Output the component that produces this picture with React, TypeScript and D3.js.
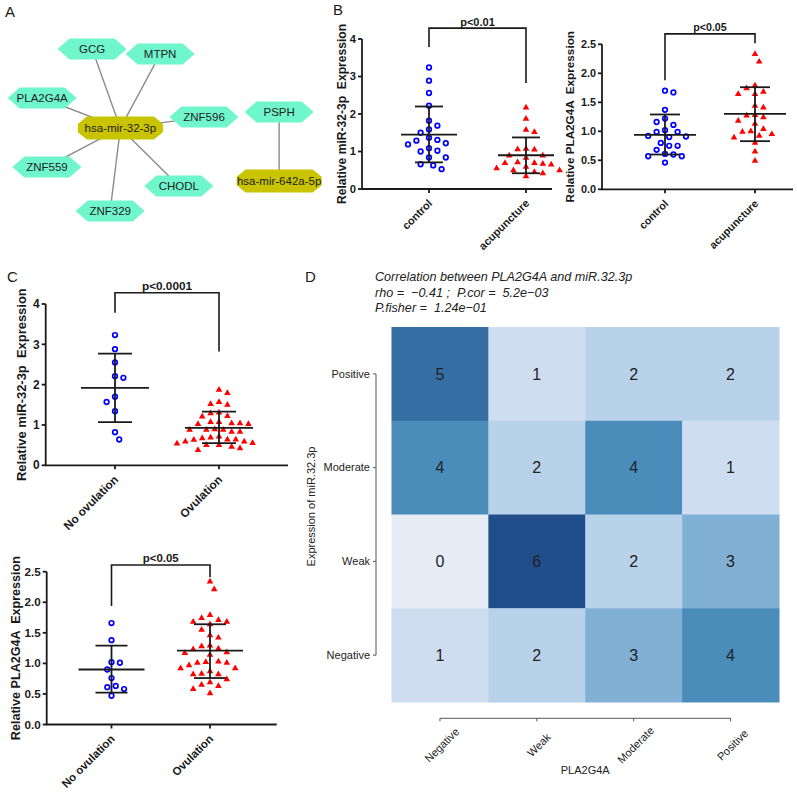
import React from 'react';
import * as d3 from 'd3';

const FONT = "'Liberation Sans', Arial, Helvetica, sans-serif";
const INK = '#1a1a1a';

// ---------------- Panel A: network ----------------
const netNodeNames = ['GCG', 'MTPN', 'PLA2G4A', 'ZNF596', 'hsa-mir-32-3p', 'ZNF559', 'CHODL', 'ZNF329', 'PSPH', 'hsa-mir-642a-5p'];
const netNodeKinds = ['gene', 'gene', 'gene', 'gene', 'mirna', 'gene', 'gene', 'gene', 'gene', 'mirna'];
// layout coordinates in percent of the panel area
const netLayoutX = [27.1, 47.1, 12.4, 60.0, 35.4, 13.8, 52.6, 32.4, 82.1, 82.1];
const netLayoutY = [21.3, 23.5, 42.6, 50.9, 55.7, 72.6, 80.9, 91.7, 48.7, 78.7];
const netEdgeFrom = ['hsa-mir-32-3p', 'hsa-mir-32-3p', 'hsa-mir-32-3p', 'hsa-mir-32-3p', 'hsa-mir-32-3p', 'hsa-mir-32-3p', 'hsa-mir-32-3p', 'PSPH'];
const netEdgeTo = ['GCG', 'MTPN', 'PLA2G4A', 'ZNF596', 'ZNF559', 'CHODL', 'ZNF329', 'hsa-mir-642a-5p'];

// ---------------- Panel B ----------------
const bCats = ['control', 'acupuncture'];
const bMirControl = [3.24, 2.89, 2.56, 2.22, 1.82, 1.69, 1.59, 1.50, 1.31, 1.37, 1.29, 1.22, 1.19, 1.09, 1.02, 1.00, 0.84, 0.84, 0.66, 0.63, 0.53];
const bMirAcu = [2.17, 1.87, 1.58, 1.52, 1.07, 1.06, 1.05, 0.89, 0.89, 0.83, 0.71, 0.69, 0.69, 0.67, 0.65, 0.59, 0.55, 0.50, 0.50, 0.45, 0.42, 0.34];
const bMirMean = [1.45, 0.90];
const bMirSdLow = [0.71, 0.42];
const bMirSdHigh = [2.20, 1.375];
const bMirTicks = [0, 1, 2, 3, 4];

const bPlaControl = [1.70, 1.67, 1.37, 1.22, 1.16, 1.11, 0.99, 1.02, 0.99, 0.92, 0.90, 0.91, 0.80, 0.75, 0.75, 0.68, 0.61, 0.57, 0.57, 0.60, 0.46];
const bPlaAcu = [2.33, 2.20, 1.79, 1.74, 1.68, 1.64, 1.64, 1.44, 1.41, 1.28, 1.27, 1.24, 1.18, 1.13, 1.04, 0.99, 0.95, 1.00, 0.92, 0.89, 0.80, 0.65, 0.49];
const bPlaMean = [0.94, 1.30];
const bPlaSdLow = [0.60, 0.83];
const bPlaSdHigh = [1.29, 1.76];
const bPlaTicks = [0, 0.5, 1.0, 1.5, 2.0, 2.5];

// ---------------- Panel C ----------------
const cCats = ['No ovulation', 'Ovulation'];
const cMirNoOv = [3.23, 2.88, 2.55, 2.21, 2.17, 1.70, 1.57, 1.34, 0.82, 0.64];
const cMirOv = [1.87, 1.79, 1.57, 1.50, 1.52, 1.31, 1.22, 1.21, 1.29, 1.07, 1.04, 1.02, 1.07, 1.04, 1.02, 0.88, 0.89, 0.88, 0.83, 0.83, 0.88, 0.71, 0.64, 0.63, 0.64, 0.69, 0.67, 0.59, 0.55, 0.50, 0.46, 0.38, 0.42, 0.50, 0.54, 0.59];
const cMirMean = [1.92, 0.93];
const cMirSdLow = [1.07, 0.55];
const cMirSdHigh = [2.77, 1.33];

const cPlaNoOv = [1.66, 1.38, 1.01, 1.02, 0.90, 0.76, 0.61, 0.63, 0.58, 0.47];
const cPlaOv = [2.34, 2.21, 1.79, 1.74, 1.68, 1.64, 1.68, 1.71, 1.55, 1.46, 1.42, 1.28, 1.23, 1.24, 1.29, 1.17, 1.14, 1.18, 1.01, 0.97, 0.92, 1.03, 0.92, 1.01, 1.02, 0.82, 0.87, 0.83, 0.82, 0.74, 0.69, 0.65, 0.63, 0.51, 0.58];
const cPlaMean = [0.90, 1.21];
const cPlaSdLow = [0.52, 0.76];
const cPlaSdHigh = [1.29, 1.64];

// ---------------- Panel D ----------------
const dRows = ['Positive', 'Moderate', 'Weak', 'Negative'];
const dCols = ['Negative', 'Weak', 'Moderate', 'Positive'];
const dCounts = [
  [5, 1, 2, 2],
  [4, 2, 4, 1],
  [0, 6, 2, 3],
  [1, 2, 3, 4],
];
const dTitle = ['Correlation between PLA2G4A and miR.32.3p', 'rho =  \u22120.41 ;  P.cor =  5.2e\u221203', 'P.fisher =  1.24e\u221201'];
const dColorStops = [0, 1, 2, 3, 4, 5, 6];
const dColors = ['#e7edf7', '#cedef0', '#b8d2e9', '#80b0d3', '#4a8dbb', '#356ea3', '#1f4e8b'];

// ---------------- helpers ----------------
function beeswarm(vals: number[], y: (v: number) => number, dmin: number, step: number): number[] {
  const order = vals.map((_, i) => i).sort((a, b) => vals[b] - vals[a]);
  const placed: { x: number; y: number }[] = [];
  const out: number[] = new Array(vals.length).fill(0);
  let flip = 1;
  for (const i of order) {
    const py = y(vals[i]);
    let found = 0;
    for (let n = 0; n < 60; n++) {
      const cands = n === 0 ? [0] : [flip * n * step, -flip * n * step];
      let ok: number | null = null;
      for (const c of cands) {
        if (placed.every((p) => Math.hypot(p.x - c, p.y - py) >= dmin)) {
          ok = c;
          break;
        }
      }
      if (ok !== null) {
        found = ok;
        break;
      }
    }
    if (found !== 0) flip = -flip;
    placed.push({ x: found, y: py });
    out[i] = found;
  }
  return out;
}

function hexPath(w: number, h: number, cut: number) {
  return `M${-w / 2},0L${-w / 2 + cut},${-h / 2}L${w / 2 - cut},${-h / 2}L${w / 2},0L${w / 2 - cut},${h / 2}L${-w / 2 + cut},${h / 2}Z`;
}
function octPath(w: number, h: number, cut: number) {
  const s = h * 0.18;
  return `M${-w / 2},${-s}L${-w / 2 + cut},${-h / 2}L${w / 2 - cut},${-h / 2}L${w / 2},${-s}L${w / 2},${s}L${w / 2 - cut},${h / 2}L${-w / 2 + cut},${h / 2}L${-w / 2},${s}Z`;
}

function NetworkPanel() {
  const xA = d3.scaleLinear().domain([0, 100]).range([0, 340]);
  const yA = d3.scaleLinear().domain([0, 100]).range([0, 230]);
  const pos = new Map<string, { x: number; y: number; kind: string }>();
  netNodeNames.forEach((n, i) => pos.set(n, { x: xA(netLayoutX[i]), y: yA(netLayoutY[i]), kind: netNodeKinds[i] }));
  return (
    <g>
      {netEdgeFrom.map((f, i) => {
        const a = pos.get(f)!;
        const b = pos.get(netEdgeTo[i])!;
        return <line key={i} x1={a.x} y1={a.y} x2={b.x} y2={b.y} stroke="#8c8c8c" strokeWidth={1.4} />;
      })}
      {netNodeNames.map((n) => {
        const p = pos.get(n)!;
        const isMir = p.kind === 'mirna';
        return (
          <g key={n} transform={`translate(${p.x},${p.y})`}>
            <path d={isMir ? octPath(85, 23, 9) : hexPath(69, 21, 12)} fill={isMir ? '#c9c300' : '#6ff6cb'} />
            <text textAnchor="middle" dy="0.36em" fontSize={11.5} fontFamily={FONT} fill="#222">
              {n}
            </text>
          </g>
        );
      })}
      <text x={5} y={17} fontSize={15} fontFamily={FONT} fill={INK}>A</text>
    </g>
  );
}

type PanelCfg = {
  x0: number; x1: number; catX: [number, number]; cats: string[];
  y0: number; y1: number; ymax: number; ticks: number[]; fmt: string;
  title: string; titleX: number; fs: number;
  meanHalf: number; capHalf: number;
  bracketTop: number; bracketLeft: number; bracketRight: number; pLabel: string;
};

function ScatterPanel({ cfg, data, mean, lo, hi }: { cfg: PanelCfg; data: number[][]; mean: number[]; lo: number[]; hi: number[] }) {
  const y = d3.scaleLinear().domain([0, cfg.ymax]).range([cfg.y0, cfg.y1]);
  const x = d3.scalePoint<string>().domain(cfg.cats).range(cfg.catX);
  const fmt = d3.format(cfg.fmt);
  const tri = d3.symbol(d3.symbolTriangle, 19)()!;
  const sw = 1.8;
  const fs = cfg.fs;
  return (
    <g fontFamily={FONT} fill={INK}>
      {/* points */}
      {data.map((vals, gi) => {
        const cx = x(cfg.cats[gi])!;
        const offs = beeswarm(vals, y, 8, 4.2);
        return (
          <g key={gi}>
            {vals.map((v, i) =>
              gi === 0 ? (
                <circle key={i} cx={cx + offs[i]} cy={y(v)} r={2.3} fill="#fff" stroke="#0000ff" strokeWidth={1.7} />
              ) : (
                <path key={i} d={tri} transform={`translate(${cx + offs[i]},${y(v)})`} fill="#ff0000" />
              )
            )}
          </g>
        );
      })}
      {/* mean and SD */}
      {cfg.cats.map((c, gi) => {
        const cx = x(c)!;
        return (
          <g key={c} stroke={INK} strokeWidth={sw}>
            <line x1={cx} x2={cx} y1={y(lo[gi])} y2={y(hi[gi])} />
            <line x1={cx - cfg.capHalf} x2={cx + cfg.capHalf} y1={y(lo[gi])} y2={y(lo[gi])} />
            <line x1={cx - cfg.capHalf} x2={cx + cfg.capHalf} y1={y(hi[gi])} y2={y(hi[gi])} />
            <line x1={cx - cfg.meanHalf} x2={cx + cfg.meanHalf} y1={y(mean[gi])} y2={y(mean[gi])} />
          </g>
        );
      })}
      {/* axes */}
      <line x1={cfg.x0} x2={cfg.x0} y1={y(0)} y2={y(cfg.ymax)} stroke={INK} strokeWidth={sw} />
      <line x1={cfg.x0 - 0.9} x2={cfg.x1} y1={y(0)} y2={y(0)} stroke={INK} strokeWidth={sw} />
      {cfg.ticks.map((t) => (
        <g key={t}>
          <line x1={cfg.x0 - 4} x2={cfg.x0} y1={y(t)} y2={y(t)} stroke={INK} strokeWidth={sw} />
          <text x={cfg.x0 - 6} y={y(t)} dy="0.35em" textAnchor="end" fontSize={11.2 * fs} fontWeight="bold">
            {fmt(t)}
          </text>
        </g>
      ))}
      {cfg.cats.map((c) => (
        <g key={c}>
          <line x1={x(c)!} x2={x(c)!} y1={y(0)} y2={y(0) + 4} stroke={INK} strokeWidth={sw} />
          <text transform={`translate(${x(c)! + 4},${y(0) + 15}) rotate(-45)`} textAnchor="end" fontSize={11 * fs} fontWeight="bold">
            {c}
          </text>
        </g>
      ))}
      <text
        transform={`translate(${cfg.titleX},${(y(0) + y(cfg.ymax)) / 2}) rotate(-90)`}
        textAnchor="middle"
        dy="0.36em"
        fontSize={12.1 * fs}
        fontWeight="bold"
        xmlSpace="preserve"
        style={{ whiteSpace: 'pre' }}
      >
        {cfg.title}
      </text>
      {/* significance bracket */}
      <path
        d={`M${x(cfg.cats[0])},${y(cfg.bracketLeft)}V${y(cfg.bracketTop)}H${x(cfg.cats[1])}V${y(cfg.bracketRight)}`}
        fill="none"
        stroke={INK}
        strokeWidth={1.6}
      />
      <text x={(cfg.catX[0] + cfg.catX[1]) / 2} y={y(cfg.bracketTop) - 2.5} textAnchor="middle" fontSize={11 * fs} fontWeight="bold">
        {cfg.pLabel}
      </text>
    </g>
  );
}

const cfgBMir: PanelCfg = {
  x0: 362, x1: 552, catX: [429, 526], cats: bCats, y0: 189, y1: 39, ymax: 4, ticks: bMirTicks, fmt: 'd',
  title: 'Relative miR-32-3p  Expression', titleX: 342, fs: 1.0, meanHalf: 28, capHalf: 14,
  bracketTop: 4.29, bracketLeft: 3.79, bracketRight: 2.83, pLabel: 'p<0.01',
};
const cfgBPla: PanelCfg = {
  x0: 602, x1: 793, catX: [665, 755], cats: bCats, y0: 189.3, y1: 44.3, ymax: 2.5, ticks: bPlaTicks, fmt: '.1f',
  title: 'Relative PLA2G4A  Expression', titleX: 570, fs: 0.97, meanHalf: 31, capHalf: 15,
  bracketTop: 2.68, bracketLeft: 1.88, bracketRight: 2.52, pLabel: 'p<0.05',
};
const cfgCMir: PanelCfg = {
  x0: 45.7, x1: 288, catX: [115, 219], cats: cCats, y0: 465.3, y1: 304, ymax: 4, ticks: bMirTicks, fmt: 'd',
  title: 'Relative miR-32-3p  Expression', titleX: 21.7, fs: 1.07, meanHalf: 34, capHalf: 17,
  bracketTop: 4.28, bracketLeft: 3.78, bracketRight: 2.82, pLabel: 'p<0.0001',
};
const cfgCPla: PanelCfg = {
  x0: 46.7, x1: 276.7, catX: [111.5, 210], cats: cCats, y0: 724.5, y1: 571.7, ymax: 2.5, ticks: bPlaTicks, fmt: '.1f',
  title: 'Relative PLA2G4A  Expression', titleX: 15, fs: 1.04, meanHalf: 33, capHalf: 16,
  bracketTop: 2.61, bracketLeft: 1.94, bracketRight: 2.41, pLabel: 'p<0.05',
};

function HeatmapPanel() {
  const xD = d3.scaleBand<string>().domain(dCols).range([391.5, 779]);
  const yD = d3.scaleBand<string>().domain(dRows).range([327, 702]);
  const color = d3.scaleLinear<string>().domain(dColorStops).range(dColors);
  const bw = xD.bandwidth();
  const bh = yD.bandwidth();
  const axisX = 376;
  const axisY = 718.3;
  const gray = '#555';
  return (
    <g fontFamily={FONT}>
      <text x={305} y={282} fontSize={15} fill={INK}>D</text>
      {dTitle.map((t, i) => (
        <text key={i} x={375} y={281 + i * 15.5} fontSize={12.6} fontStyle="italic" fill="#222" xmlSpace="preserve" style={{ whiteSpace: 'pre' }}>
          {t}
        </text>
      ))}
      {dRows.map((r, ri) =>
        dCols.map((c, ci) => (
          <g key={r + c}>
            <rect x={xD(c)!} y={yD(r)!} width={bw + 0.5} height={bh + 0.5} fill={color(dCounts[ri][ci])} />
          </g>
        ))
      )}
      {dRows.map((r, ri) =>
        dCols.map((c, ci) => (
          <text key={'t' + r + c} x={xD(c)! + bw / 2} y={yD(r)! + bh / 2} dy="0.36em" textAnchor="middle" fontSize={16} fill="#222">
            {dCounts[ri][ci]}
          </text>
        ))
      )}
      {/* y axis */}
      <line x1={axisX} x2={axisX} y1={yD(dRows[0])! + bh / 2} y2={yD(dRows[3])! + bh / 2} stroke={gray} strokeWidth={1} />
      {dRows.map((r) => (
        <g key={r}>
          <line x1={axisX - 3} x2={axisX} y1={yD(r)! + bh / 2} y2={yD(r)! + bh / 2} stroke={gray} strokeWidth={1} />
          <text x={axisX - 6} y={yD(r)! + bh / 2} dy="0.35em" textAnchor="end" fontSize={11} fill="#222">
            {r}
          </text>
        </g>
      ))}
      <text transform={`translate(311.5,${(327 + 702) / 2 - 8}) rotate(-90)`} textAnchor="middle" dy="0.36em" fontSize={11} fill="#222">
        Expression of miR.32.3p
      </text>
      {/* x axis */}
      <line x1={xD(dCols[0])! + bw / 2} x2={xD(dCols[3])! + bw / 2} y1={axisY} y2={axisY} stroke={gray} strokeWidth={1} />
      {dCols.map((c) => (
        <g key={c}>
          <line x1={xD(c)! + bw / 2} x2={xD(c)! + bw / 2} y1={axisY} y2={axisY + 3} stroke={gray} strokeWidth={1} />
          <text transform={`translate(${xD(c)! + bw / 2 + 2},745) rotate(-45)`} textAnchor="middle" dy="0.35em" fontSize={11} fill="#222">
            {c}
          </text>
        </g>
      ))}
      <text x={(391.5 + 779) / 2} y={774} textAnchor="middle" fontSize={11} fill="#222">
        PLA2G4A
      </text>
    </g>
  );
}

export default function App() {
  return (
    <svg width={797} height={792} style={{ position: 'absolute', left: 0, top: 0, background: '#fff' }}>
      <rect width={797} height={792} fill="#fff" />
      <NetworkPanel />
      <text x={333} y={15} fontSize={15} fontFamily={FONT} fill={INK}>B</text>
      <ScatterPanel cfg={cfgBMir} data={[bMirControl, bMirAcu]} mean={bMirMean} lo={bMirSdLow} hi={bMirSdHigh} />
      <ScatterPanel cfg={cfgBPla} data={[bPlaControl, bPlaAcu]} mean={bPlaMean} lo={bPlaSdLow} hi={bPlaSdHigh} />
      <text x={7} y={282} fontSize={15} fontFamily={FONT} fill={INK}>C</text>
      <ScatterPanel cfg={cfgCMir} data={[cMirNoOv, cMirOv]} mean={cMirMean} lo={cMirSdLow} hi={cMirSdHigh} />
      <ScatterPanel cfg={cfgCPla} data={[cPlaNoOv, cPlaOv]} mean={cPlaMean} lo={cPlaSdLow} hi={cPlaSdHigh} />
      <HeatmapPanel />
    </svg>
  );
}
